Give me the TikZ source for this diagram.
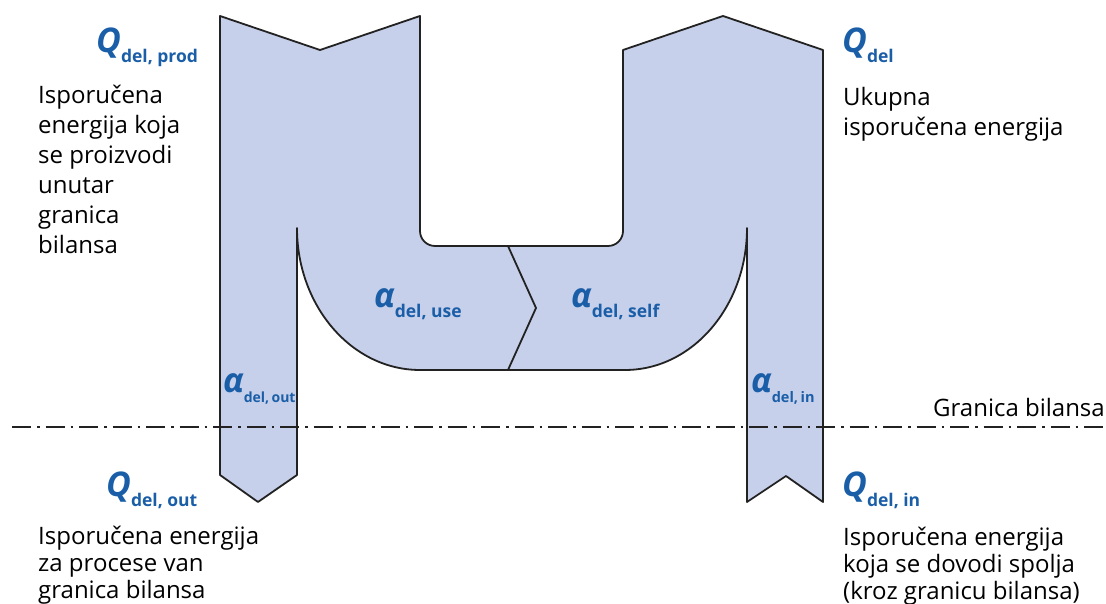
\documentclass[tikz,border=0pt]{standalone}
\usepackage{fontspec}
\setmainfont{Open Sans}
\definecolor{flowfill}{RGB}{198,208,234}
\definecolor{edgegray}{RGB}{34,34,34}
\definecolor{symblue}{RGB}{27,94,168}
\newcommand{\symlbl}[3][17.5]{{\fontsize{34}{34}\selectfont\bfseries\itshape #2}\raisebox{-10pt}{\fontsize{#1}{#1}\selectfont\bfseries #3}}

\begin{document}
\begin{tikzpicture}[x=1pt, y=1pt,
    flow/.style={fill=flowfill, draw=edgegray, line width=1.8pt, line join=round},
    sym/.style={anchor=base west, inner sep=0pt, text=symblue},
    desc/.style={anchor=north west, inner sep=0pt, align=left, font=\fontsize{24}{30}\selectfont}]
    \useasboundingbox (0, 0) rectangle (1106, 604);
    % energy flow
    \draw[flow] (220, 588) -- (320, 554) -- (420, 588) -- (420, 373)
        arc[start angle=180, end angle=270, radius=15] -- (608, 358)
        arc[start angle=270, end angle=360, radius=15] -- (623, 554)
        -- (723, 588) -- (823, 554) -- (823, 102) -- (786, 128) -- (747, 102)
        -- (747, 376) arc[start angle=0, end angle=-90, x radius=122, y radius=142]
        -- (420, 234) arc[start angle=270, end angle=180, x radius=123, y radius=142]
        -- (297, 129) -- (258, 102) -- (220, 129) -- cycle;
    \draw[flow, fill=none] (508, 358) -- (536, 296) -- (508, 234);
    % balance boundary
    \coordinate (bndl) at (12, 177);
    \coordinate (bndr) at (1104, 177);
    \draw[line width=1.8pt, edgegray, dash pattern=on 19pt off 6pt on 2.5pt off 6pt] (bndl) -- (bndr);
    \node[anchor=base east, inner sep=0pt, font=\fontsize{24}{30}\selectfont] (bndlbl) at (1105, 187) {Granica bilansa};
    % symbols
    \node[sym] (qprod) at (96, 551) {\symlbl{Q}{del, prod}};
    \node[sym] (qdel) at (842, 551) {\symlbl{Q}{del}};
    \node[sym] (quse) at (374, 296) {\symlbl{α}{del, use}};
    \node[sym] (qself) at (571, 296) {\symlbl{α}{del, self}};
    \node[sym] (aout) at (223, 211) {\symlbl[14]{α}{del,\,out}};
    \node[sym] (ain) at (751, 211) {\symlbl[14.5]{α}{del,\,in}};
    \node[sym] (qout) at (106, 107) {\symlbl{Q}{del, out}};
    \node[sym] (qin) at (842, 107) {\symlbl{Q}{del, in}};
    % descriptions
    \node[desc] (dprod) at (38, 519) {Isporučena\\energija koja\\se proizvodi\\unutar\\granica\\bilansa};
    \node[desc] (ddel) at (843, 517) {Ukupna\\isporučena energija};
    \node[desc, font=\fontsize{24}{27}\selectfont] (dout) at (38, 78) {Isporučena energija\\za procese van\\granica bilansa};
    \node[desc, font=\fontsize{24}{27}\selectfont] (din) at (843, 77) {Isporučena energija\\koja se dovodi spolja\\(kroz granicu bilansa)};
\end{tikzpicture}
\end{document}
